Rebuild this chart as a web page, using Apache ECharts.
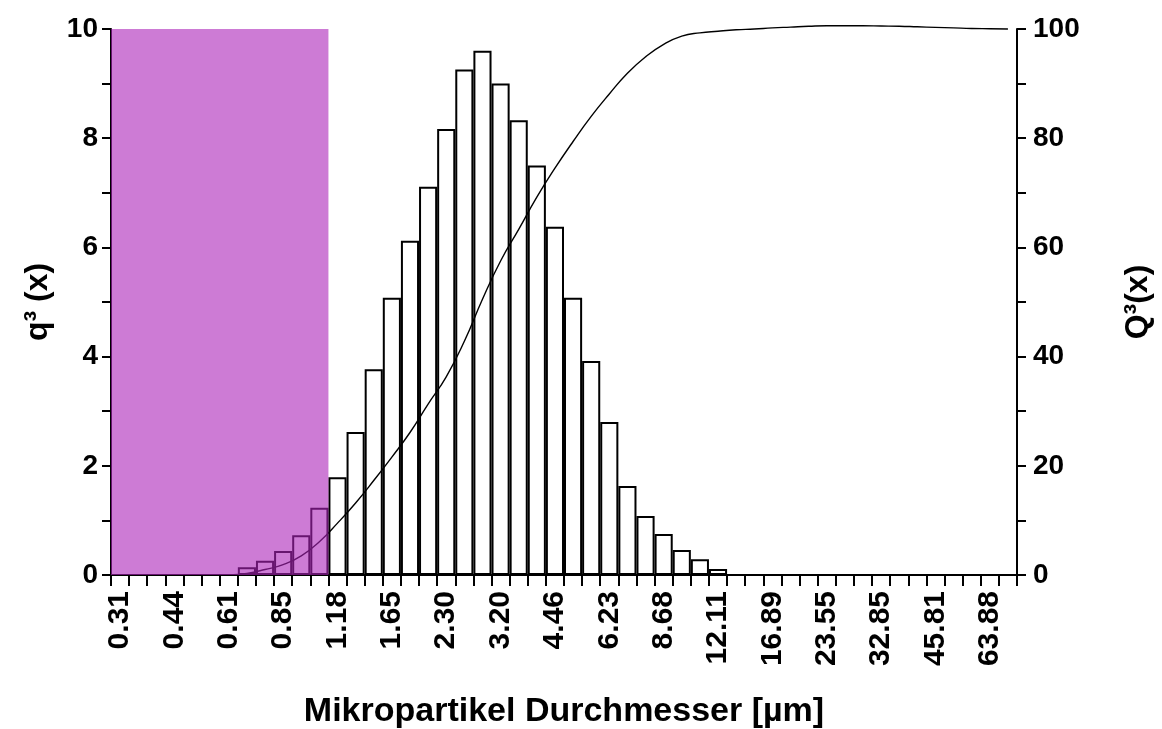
<!DOCTYPE html>
<html lang="de">
<head>
    <meta charset="UTF-8">
    <title>Partikelgrößenverteilung</title>
    <script src="https://cdn.jsdelivr.net/npm/echarts@6/dist/echarts.min.js"></script>
</head>
<body style="margin:0;background:#fff;">
<div id="main" style="width:1162px;height:729px;"></div>
<script type="text/javascript">
    // Klassen (Durchmesser in µm)
    var sizes = ['0.31','0.35','0.39','0.44','0.49','0.55','0.61','0.69','0.76','0.85',
                 '0.95','1.06','1.18','1.32','1.48','1.65','1.84','2.06','2.30','2.57',
                 '2.86','3.20','3.57','3.99','4.46','4.98','5.57','6.23','6.96','7.77',
                 '8.68','9.70','10.84','12.11','13.53','15.12','16.89','18.87','21.08','23.55',
                 '26.31','29.39','32.85','36.70','41.01','45.81','51.18','57.18','63.88','71.37'];

    // Dichteverteilung q3(x)
    var q3 = [0, 0, 0, 0, 0, 0, 0, 0.14, 0.26, 0.44,
              0.73, 1.23, 1.79, 2.62, 3.77, 5.08, 6.12, 7.11, 8.17, 9.26,
              9.6, 9.0, 8.33, 7.5, 6.38, 5.08, 3.92, 2.8, 1.63, 1.08,
              0.75, 0.46, 0.29, 0.11, 0, 0, 0, 0, 0, 0,
              0, 0, 0, 0, 0, 0, 0, 0, 0, 0];

    // Summenverteilung Q3(x)
    var Q3 = ['-', '-', '-', '-', '-', '-', 0, 0.3, 1.0, 1.9,
              3.5, 6.1, 9.5, 13.2, 17.3, 21.6, 26.1, 31.3, 36.3, 42.8,
              50.5, 57.5, 63.3, 69.2, 74.5, 79.4, 84.0, 88.1, 91.9, 94.9,
              97.2, 98.7, 99.3, 99.6, 99.85, 100.0, 100.2, 100.35, 100.5, 100.6,
              100.6, 100.6, 100.55, 100.5, 100.4, 100.3, 100.2, 100.1, 100.05, 100.0];

    // markierter Bereich: erste / letzte Klasse, Höhe
    var markFrom = 0;
    var markTo = 11;
    var markHeight = 10;

    var font = 'Liberation Sans, Arial, sans-serif';
    var myChart = echarts.init(document.getElementById('main'));

    function axisName(size) {
        return {fontFamily: font, fontWeight: 'bold', fontSize: size, color: '#000'};
    }
    var blackLine = {color: '#000', width: 2};

    var option = {
        animation: false,
        grid: {left: 111, right: 145, top: 29, bottom: 154, outerBoundsMode: 'none', containLabel: false},
        xAxis: {
            type: 'category',
            data: sizes,
            boundaryGap: true,
            name: 'Mikropartikel Durchmesser [µm]',
            nameLocation: 'middle',
            nameGap: 120,
            nameTextStyle: axisName(34),
            axisLine: {show: true, lineStyle: blackLine},
            axisTick: {show: true, interval: 0, length: 11, lineStyle: blackLine},
            axisLabel: {
                interval: 2,
                rotate: 90,
                margin: 16,
                fontFamily: font,
                fontWeight: 'bold',
                fontSize: 30,
                color: '#000'
            },
            splitLine: {show: false}
        },
        yAxis: [
            {
                type: 'value',
                min: 0,
                max: 10,
                interval: 2,
                name: 'q³ (x)',
                nameLocation: 'middle',
                nameRotate: 90,
                nameGap: 57,
                nameTextStyle: axisName(32),
                axisLine: {show: true, lineStyle: blackLine},
                axisTick: {show: true, length: 9, lineStyle: blackLine},
                minorTick: {show: true, splitNumber: 2, length: 9, lineStyle: blackLine},
                axisLabel: {margin: 13, fontFamily: font, fontWeight: 'bold', fontSize: 28, color: '#000'},
                splitLine: {show: false}
            },
            {
                type: 'value',
                min: 0,
                max: 100,
                interval: 20,
                position: 'right',
                name: 'Q³(x)',
                nameLocation: 'middle',
                nameRotate: 90,
                nameGap: 105,
                nameTextStyle: axisName(32),
                axisLine: {show: true, lineStyle: blackLine},
                axisTick: {show: true, length: 9, lineStyle: blackLine},
                minorTick: {show: true, splitNumber: 2, length: 9, lineStyle: blackLine},
                axisLabel: {margin: 16, fontFamily: font, fontWeight: 'bold', fontSize: 28, color: '#000'},
                splitLine: {show: false}
            }
        ],
        series: [
            {
                name: 'q3',
                type: 'bar',
                data: q3,
                barCategoryGap: '0%',
                z: 2,
                itemStyle: {color: 'rgba(255,255,255,0)', borderColor: '#000', borderWidth: 2}
            },
            {
                name: 'Q3',
                type: 'line',
                yAxisIndex: 1,
                data: Q3,
                smooth: true,
                showSymbol: false,
                clip: false,
                z: 3,
                lineStyle: {color: '#000', width: 1.4}
            },
            {
                name: 'Bereich',
                type: 'custom',
                data: [[markFrom, markTo, markHeight]],
                encode: {x: [0, 1], y: 2},
                z: 4,
                renderItem: function (params, api) {
                    var p0 = api.coord([api.value(0), 0]);
                    var p1 = api.coord([api.value(1), api.value(2)]);
                    var band = api.size([1, 0])[0];
                    return {
                        type: 'rect',
                        shape: {
                            x: p0[0] - band / 2,
                            y: p1[1],
                            width: p1[0] - p0[0] + band,
                            height: p0[1] - p1[1]
                        },
                        style: {fill: 'rgba(172,35,185,0.6)'}
                    };
                }
            }
        ]
    };
    myChart.setOption(option);
</script>
</body>
</html>
